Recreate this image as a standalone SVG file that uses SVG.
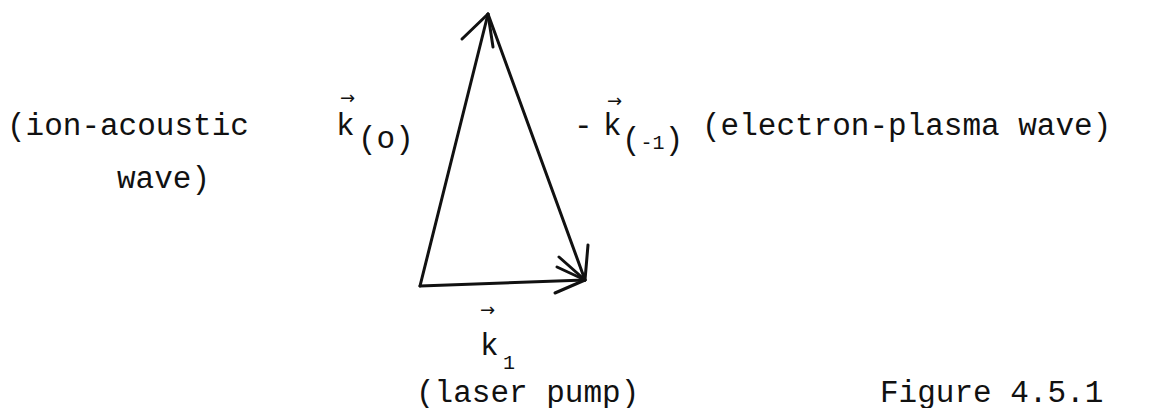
<svg xmlns="http://www.w3.org/2000/svg" width="1170" height="408" viewBox="0 0 1170 408">
<style>
.t{font-family:"Liberation Mono","Courier New",monospace;font-size:31px;fill:#111}
.ss{font-family:"Liberation Mono","Courier New",monospace;font-size:20px;fill:#111}
.v{font-family:"DejaVu Sans",sans-serif;font-size:18px;fill:#111}
.e{fill:none;stroke:#111;stroke-width:3;stroke-linecap:round;stroke-linejoin:round}
</style>
<rect width="1170" height="408" fill="#fff"/>
<g id="connectors">
<path class="e" d="M420,286 L488,14"/>
<path class="e" d="M462,39 L488,14 L493,47"/>
<path class="e" d="M488,14 L585,280"/>
<path class="e" d="M588,245 L585,280 L559,257"/>
<path class="e" d="M420,286 L585,280"/>
<path class="e" d="M557,267 L585,280 L555,293"/>
</g>
<g id="label-ion">
<text class="t" x="7" y="135">(ion-acoustic</text>
<text class="t" x="117" y="188">wave)</text>
</g>
<g id="label-k0">
<text class="v" x="340" y="104">→</text>
<text class="t" x="336" y="135">k</text>
<text class="t" x="358" y="148">(o)</text>
</g>
<g id="label-km1">
<text class="t" x="574" y="135">-</text>
<text class="v" x="607" y="107">→</text>
<text class="t" x="603" y="135">k</text>
<text class="t" x="622" y="149">(<tspan class="ss">-1</tspan>)</text>
</g>
<g id="label-electron">
<text class="t" x="702" y="135">(electron-plasma wave)</text>
</g>
<g id="label-k1">
<text class="v" x="480" y="316">→</text>
<text class="t" x="480" y="355">k</text>
<text class="ss" x="503" y="369">1</text>
<text class="t" x="416" y="402">(laser pump)</text>
</g>
<g id="caption">
<text class="t" x="880" y="402">Figure 4.5.1</text>
</g>
</svg>
